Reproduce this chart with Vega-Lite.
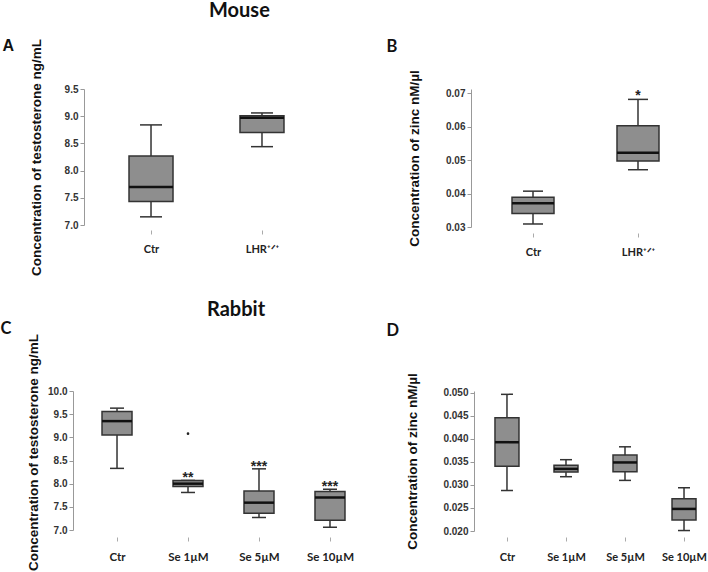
{
  "$schema": "https://vega.github.io/schema/vega-lite/v6.json",
  "background": "white",
  "padding": {"left": 0, "top": 1, "right": 0, "bottom": 0},
  "bounds": "flush",
  "columns": 2,
  "spacing": {"row": 164, "column": 97},
  "datasets": {
    "mouse_testosterone": [
      {"group": "Ctr", "min": 7.15, "q1": 7.43, "median": 7.70, "q3": 8.27, "max": 8.84},
      {"group": "LHR⁺ᐟ⁺", "min": 8.44, "q1": 8.70, "median": 8.97, "q3": 9.01, "max": 9.06}
    ],
    "mouse_zinc": [
      {"group": "Ctr", "min": 0.0309, "q1": 0.0340, "median": 0.0371, "q3": 0.0389, "max": 0.0407, "star": ""},
      {"group": "LHR⁺ᐟ⁺", "min": 0.0471, "q1": 0.0497, "median": 0.0522, "q3": 0.0602, "max": 0.0681, "star": "*"}
    ],
    "rabbit_testosterone": [
      {"group": "Ctr", "min": 8.33, "q1": 9.05, "median": 9.35, "q3": 9.56, "max": 9.63, "star": ""},
      {"group": "Se 1µM", "min": 7.81, "q1": 7.94, "median": 8.00, "q3": 8.07, "max": 8.07, "star": "**"},
      {"group": "Se 5µM", "min": 7.27, "q1": 7.36, "median": 7.59, "q3": 7.84, "max": 8.32, "star": "***"},
      {"group": "Se 10µM", "min": 7.06, "q1": 7.21, "median": 7.70, "q3": 7.83, "max": 7.88, "star": "***"}
    ],
    "rabbit_testosterone_outliers": [
      {"group": "Se 1µM", "value": 9.08}
    ],
    "rabbit_zinc": [
      {"group": "Ctr", "min": 0.0288, "q1": 0.0341, "median": 0.0393, "q3": 0.0446, "max": 0.0497},
      {"group": "Se 1µM", "min": 0.0318, "q1": 0.0328, "median": 0.0335, "q3": 0.0343, "max": 0.0355},
      {"group": "Se 5µM", "min": 0.0310, "q1": 0.0329, "median": 0.0349, "q3": 0.0365, "max": 0.0383},
      {"group": "Se 10µM", "min": 0.0201, "q1": 0.0224, "median": 0.0248, "q3": 0.0270, "max": 0.0294}
    ]
  },
  "concat": [
    {
      "width": 267,
      "height": 136,
      "data": {"name": "mouse_testosterone"},
      "title": {"text": "Mouse", "dx": 136, "offset": 16},
      "encoding": {
        "x": {
          "field": "group", "type": "nominal", "sort": null,
          "scale": {"type": "point", "padding": 0.703},
          "axis": {"offset": 5, "labelPadding": 9, "title": "A", "titleX": -71, "titleY": -180, "titleFont": "Liberation Sans", "titleFontSize": 16}
        }
      },
      "layer": [
        {
          "mark": {"type": "rule", "color": "#333", "strokeWidth": 1.5},
          "encoding": {
            "y": {"field": "min", "type": "quantitative", "title": "Concentration of testosterone ng/mL",
                  "scale": {"domain": [7, 9.5], "nice": false, "zero": false},
                  "axis": {"values": [7, 7.5, 8, 8.5, 9, 9.5], "format": ".1f", "labelOverlap": false, "offset": -11, "titlePadding": 21}},
            "y2": {"field": "max"}
          }
        },
        {
          "mark": {"type": "tick", "orient": "horizontal", "size": 22, "thickness": 1.5, "color": "#333", "opacity": 1},
          "encoding": {"y": {"field": "min", "type": "quantitative", "title": "Concentration of testosterone ng/mL", "scale": {"domain": [7, 9.5], "nice": false, "zero": false},
                  "axis": {"values": [7, 7.5, 8, 8.5, 9, 9.5], "format": ".1f", "labelOverlap": false, "offset": -11, "titlePadding": 21}}}
        },
        {
          "mark": {"type": "tick", "orient": "horizontal", "size": 22, "thickness": 1.5, "color": "#333", "opacity": 1},
          "encoding": {"y": {"field": "max", "type": "quantitative", "title": "Concentration of testosterone ng/mL", "scale": {"domain": [7, 9.5], "nice": false, "zero": false},
                  "axis": {"values": [7, 7.5, 8, 8.5, 9, 9.5], "format": ".1f", "labelOverlap": false, "offset": -11, "titlePadding": 21}}}
        },
        {
          "mark": {"type": "bar", "size": 44, "fill": "#8e8e8e", "stroke": "#333", "strokeWidth": 1.5, "opacity": 1},
          "encoding": {
            "y": {"field": "q1", "type": "quantitative", "title": "Concentration of testosterone ng/mL", "scale": {"domain": [7, 9.5], "nice": false, "zero": false},
                  "axis": {"values": [7, 7.5, 8, 8.5, 9, 9.5], "format": ".1f", "labelOverlap": false, "offset": -11, "titlePadding": 21}},
            "y2": {"field": "q3"}
          }
        },
        {
          "mark": {"type": "tick", "orient": "horizontal", "size": 44, "thickness": 2.5, "color": "#111", "opacity": 1},
          "encoding": {"y": {"field": "median", "type": "quantitative", "title": "Concentration of testosterone ng/mL", "scale": {"domain": [7, 9.5], "nice": false, "zero": false},
                  "axis": {"values": [7, 7.5, 8, 8.5, 9, 9.5], "format": ".1f", "labelOverlap": false, "offset": -11, "titlePadding": 21}}}
        }
      ]
    },
    {
      "width": 229,
      "height": 138,
      "data": {"name": "mouse_zinc"},
      "encoding": {
        "x": {
          "field": "group", "type": "nominal", "sort": null,
          "scale": {"type": "point", "padding": 0.5905},
          "axis": {"offset": 6, "labelPadding": 9, "title": "B", "titleX": -85, "titleY": -182}
        }
      },
      "layer": [
        {
          "mark": {"type": "rule", "color": "#333", "strokeWidth": 1.5},
          "encoding": {
            "y": {"field": "min", "type": "quantitative", "title": "Concentration of zinc nM/µl",
                  "scale": {"domain": [0.03, 0.0712], "nice": false, "zero": false},
                  "axis": {"values": [0.03, 0.04, 0.05, 0.06, 0.07], "format": ".2f", "labelOverlap": false, "titlePadding": 24}},
            "y2": {"field": "max"}
          }
        },
        {
          "mark": {"type": "tick", "orient": "horizontal", "size": 20, "thickness": 1.5, "color": "#333", "opacity": 1},
          "encoding": {"y": {"field": "min", "type": "quantitative", "title": "Concentration of zinc nM/µl", "scale": {"domain": [0.03, 0.0712], "nice": false, "zero": false},
                  "axis": {"values": [0.03, 0.04, 0.05, 0.06, 0.07], "format": ".2f", "labelOverlap": false, "titlePadding": 24}}}
        },
        {
          "mark": {"type": "tick", "orient": "horizontal", "size": 20, "thickness": 1.5, "color": "#333", "opacity": 1},
          "encoding": {"y": {"field": "max", "type": "quantitative", "title": "Concentration of zinc nM/µl", "scale": {"domain": [0.03, 0.0712], "nice": false, "zero": false},
                  "axis": {"values": [0.03, 0.04, 0.05, 0.06, 0.07], "format": ".2f", "labelOverlap": false, "titlePadding": 24}}}
        },
        {
          "mark": {"type": "bar", "size": 42, "fill": "#8e8e8e", "stroke": "#333", "strokeWidth": 1.5, "opacity": 1},
          "encoding": {
            "y": {"field": "q1", "type": "quantitative", "title": "Concentration of zinc nM/µl", "scale": {"domain": [0.03, 0.0712], "nice": false, "zero": false},
                  "axis": {"values": [0.03, 0.04, 0.05, 0.06, 0.07], "format": ".2f", "labelOverlap": false, "titlePadding": 24}},
            "y2": {"field": "q3"}
          }
        },
        {
          "mark": {"type": "tick", "orient": "horizontal", "size": 42, "thickness": 2.5, "color": "#111", "opacity": 1},
          "encoding": {"y": {"field": "median", "type": "quantitative", "title": "Concentration of zinc nM/µl", "scale": {"domain": [0.03, 0.0712], "nice": false, "zero": false},
                  "axis": {"values": [0.03, 0.04, 0.05, 0.06, 0.07], "format": ".2f", "labelOverlap": false, "titlePadding": 24}}}
        },
        {
          "mark": {"type": "text", "font": "Liberation Sans", "fontWeight": "bold", "fontSize": 14, "color": "#222", "baseline": "alphabetic", "dy": 1},
          "encoding": {
            "y": {"field": "max", "type": "quantitative", "title": "Concentration of zinc nM/µl", "scale": {"domain": [0.03, 0.0712], "nice": false, "zero": false},
                  "axis": {"values": [0.03, 0.04, 0.05, 0.06, 0.07], "format": ".2f", "labelOverlap": false, "titlePadding": 24}},
            "text": {"field": "star"}
          }
        }
      ]
    },
    {
      "width": 301,
      "height": 139,
      "title": {"text": "Rabbit", "dx": 134, "offset": 0},
      "encoding": {
        "x": {
          "field": "group", "type": "nominal", "sort": null,
          "scale": {"type": "point", "padding": 0.62, "domain": ["Ctr", "Se 1µM", "Se 5µM", "Se 10µM"]},
          "axis": {"offset": 7, "labelPadding": 10, "labelFontSize": 11.5, "title": "C", "titleX": -73, "titleY": -204}
        }
      },
      "layer": [
        {
          "data": {"name": "rabbit_testosterone"},
          "mark": {"type": "rule", "color": "#333", "strokeWidth": 1.5},
          "encoding": {
            "y": {"field": "min", "type": "quantitative", "title": "Concentration of testosterone ng/mL",
                  "scale": {"domain": [7, 10], "nice": false, "zero": false},
                  "axis": {"values": [7, 7.5, 8, 8.5, 9, 9.5, 10], "format": ".1f", "labelOverlap": false, "titlePadding": 7, "titleY": 61}},
            "y2": {"field": "max"}
          }
        },
        {
          "data": {"name": "rabbit_testosterone"},
          "mark": {"type": "tick", "orient": "horizontal", "size": 14, "thickness": 1.5, "color": "#333", "opacity": 1},
          "encoding": {"y": {"field": "min", "type": "quantitative", "title": "Concentration of testosterone ng/mL", "scale": {"domain": [7, 10], "nice": false, "zero": false},
                  "axis": {"values": [7, 7.5, 8, 8.5, 9, 9.5, 10], "format": ".1f", "labelOverlap": false, "titlePadding": 7, "titleY": 61}}}
        },
        {
          "data": {"name": "rabbit_testosterone"},
          "mark": {"type": "tick", "orient": "horizontal", "size": 14, "thickness": 1.5, "color": "#333", "opacity": 1},
          "encoding": {"y": {"field": "max", "type": "quantitative", "title": "Concentration of testosterone ng/mL", "scale": {"domain": [7, 10], "nice": false, "zero": false},
                  "axis": {"values": [7, 7.5, 8, 8.5, 9, 9.5, 10], "format": ".1f", "labelOverlap": false, "titlePadding": 7, "titleY": 61}}}
        },
        {
          "data": {"name": "rabbit_testosterone"},
          "mark": {"type": "bar", "size": 30, "fill": "#8e8e8e", "stroke": "#333", "strokeWidth": 1.5, "opacity": 1},
          "encoding": {
            "y": {"field": "q1", "type": "quantitative", "title": "Concentration of testosterone ng/mL", "scale": {"domain": [7, 10], "nice": false, "zero": false},
                  "axis": {"values": [7, 7.5, 8, 8.5, 9, 9.5, 10], "format": ".1f", "labelOverlap": false, "titlePadding": 7, "titleY": 61}},
            "y2": {"field": "q3"}
          }
        },
        {
          "data": {"name": "rabbit_testosterone"},
          "mark": {"type": "tick", "orient": "horizontal", "size": 30, "thickness": 2.5, "color": "#111", "opacity": 1},
          "encoding": {"y": {"field": "median", "type": "quantitative", "title": "Concentration of testosterone ng/mL", "scale": {"domain": [7, 10], "nice": false, "zero": false},
                  "axis": {"values": [7, 7.5, 8, 8.5, 9, 9.5, 10], "format": ".1f", "labelOverlap": false, "titlePadding": 7, "titleY": 61}}}
        },
        {
          "data": {"name": "rabbit_testosterone_outliers"},
          "mark": {"type": "point", "filled": true, "size": 7, "color": "#222", "opacity": 1},
          "encoding": {"y": {"field": "value", "type": "quantitative", "title": "Concentration of testosterone ng/mL", "scale": {"domain": [7, 10], "nice": false, "zero": false},
                  "axis": {"values": [7, 7.5, 8, 8.5, 9, 9.5, 10], "format": ".1f", "labelOverlap": false, "titlePadding": 7, "titleY": 61}}}
        },
        {
          "data": {"name": "rabbit_testosterone"},
          "mark": {"type": "text", "font": "Liberation Sans", "fontWeight": "bold", "fontSize": 14, "color": "#222", "baseline": "alphabetic", "dy": 2},
          "encoding": {
            "y": {"field": "max", "type": "quantitative", "title": "Concentration of testosterone ng/mL", "scale": {"domain": [7, 10], "nice": false, "zero": false},
                  "axis": {"values": [7, 7.5, 8, 8.5, 9, 9.5, 10], "format": ".1f", "labelOverlap": false, "titlePadding": 7, "titleY": 61}},
            "text": {"field": "star"}
          }
        }
      ]
    },
    {
      "width": 237,
      "height": 140,
      "data": {"name": "rabbit_zinc"},
      "encoding": {
        "x": {
          "field": "group", "type": "nominal", "sort": null,
          "scale": {"type": "point", "padding": 0.508, "align": 0.6},
          "axis": {"offset": 6, "labelPadding": 10, "labelFontSize": 11, "title": "D", "titleX": -85, "titleY": -202}
        }
      },
      "layer": [
        {
          "mark": {"type": "rule", "color": "#333", "strokeWidth": 1.5},
          "encoding": {
            "y": {"field": "min", "type": "quantitative", "title": "Concentration of zinc nM/µl",
                  "scale": {"domain": [0.02, 0.05043], "nice": false, "zero": false},
                  "axis": {"values": [0.02, 0.025, 0.03, 0.035, 0.04, 0.045, 0.05], "format": ".3f", "labelOverlap": false, "offset": -3, "titlePadding": 23}},
            "y2": {"field": "max"}
          }
        },
        {
          "mark": {"type": "tick", "orient": "horizontal", "size": 12, "thickness": 1.5, "color": "#333", "opacity": 1},
          "encoding": {"y": {"field": "min", "type": "quantitative", "title": "Concentration of zinc nM/µl", "scale": {"domain": [0.02, 0.05043], "nice": false, "zero": false},
                  "axis": {"values": [0.02, 0.025, 0.03, 0.035, 0.04, 0.045, 0.05], "format": ".3f", "labelOverlap": false, "offset": -3, "titlePadding": 23}}}
        },
        {
          "mark": {"type": "tick", "orient": "horizontal", "size": 12, "thickness": 1.5, "color": "#333", "opacity": 1},
          "encoding": {"y": {"field": "max", "type": "quantitative", "title": "Concentration of zinc nM/µl", "scale": {"domain": [0.02, 0.05043], "nice": false, "zero": false},
                  "axis": {"values": [0.02, 0.025, 0.03, 0.035, 0.04, 0.045, 0.05], "format": ".3f", "labelOverlap": false, "offset": -3, "titlePadding": 23}}}
        },
        {
          "mark": {"type": "bar", "size": 24, "fill": "#8e8e8e", "stroke": "#333", "strokeWidth": 1.5, "opacity": 1},
          "encoding": {
            "y": {"field": "q1", "type": "quantitative", "title": "Concentration of zinc nM/µl", "scale": {"domain": [0.02, 0.05043], "nice": false, "zero": false},
                  "axis": {"values": [0.02, 0.025, 0.03, 0.035, 0.04, 0.045, 0.05], "format": ".3f", "labelOverlap": false, "offset": -3, "titlePadding": 23}},
            "y2": {"field": "q3"}
          }
        },
        {
          "mark": {"type": "tick", "orient": "horizontal", "size": 24, "thickness": 2.5, "color": "#111", "opacity": 1},
          "encoding": {"y": {"field": "median", "type": "quantitative", "title": "Concentration of zinc nM/µl", "scale": {"domain": [0.02, 0.05043], "nice": false, "zero": false},
                  "axis": {"values": [0.02, 0.025, 0.03, 0.035, 0.04, 0.045, 0.05], "format": ".3f", "labelOverlap": false, "offset": -3, "titlePadding": 23}}}
        }
      ]
    }
  ],
  "config": {
    "view": {"stroke": null},
    "font": "Liberation Sans",
    "axis": {"grid": false},
    "axisY": {
      "domainColor": "#999", "domainWidth": 1, "tickColor": "#999", "tickWidth": 1, "tickSize": 4,
      "labelFont": "Liberation Sans", "labelFontWeight": "bold", "labelFontSize": 10, "labelColor": "#333", "labelPadding": 2,
      "labelOverlap": false, "labelBound": false,
      "titleFont": "Liberation Sans", "titleFontSize": 13.5, "titleFontWeight": "bold", "titleColor": "#111"
    },
    "axisX": {
      "domain": false, "tickColor": "#aaa", "tickWidth": 1, "tickSize": 4,
      "labelFont": "Lato", "labelFontWeight": "bold", "labelFontSize": 11, "labelColor": "#222", "labelAngle": 0,
      "titleAngle": 0, "titleAlign": "left", "titleBaseline": "alphabetic",
      "titleFont": "Lato", "titleFontSize": 16.5, "titleFontWeight": "bold", "titleColor": "#111"
    },
    "title": {"font": "Lato", "fontSize": 20, "fontWeight": "bold", "color": "#111", "anchor": "start", "frame": "group"}
  }
}
